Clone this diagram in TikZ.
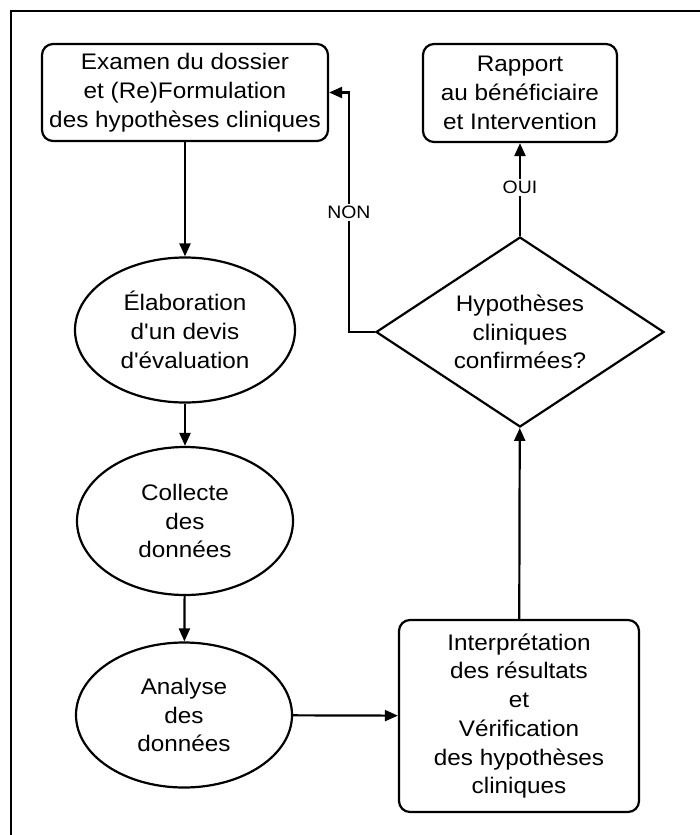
\documentclass[tikz,border=0pt]{standalone}
\usepackage{fontspec}
\setmainfont[FakeStretch=1.08,Ligatures=TeXOff]{Liberation Sans}
\usetikzlibrary{shapes.geometric,arrows.meta}
\begin{document}
\begin{tikzpicture}[x=1pt,y=-1pt,line width=2.2pt,font=\fontsize{22.5}{28.7}\selectfont,
  box/.style={draw,rounded corners=11pt,align=center,inner sep=0pt},
  ell/.style={draw,ellipse,align=center,inner sep=0pt},
  dia/.style={draw,diamond,align=center,inner sep=0pt,aspect=1.516,minimum width=288pt,minimum height=190pt},
  arr/.style={-{Triangle[length=13pt,width=11pt]}},
  lab/.style={fill=white,inner sep=2pt,font=\fontsize{18}{22}\selectfont}]
\useasboundingbox (0,0) rectangle (700,835);
\draw[line width=1.6pt] (11,835)--(11,11)--(700,11);
\node[box,minimum width=286pt,minimum height=97pt](exam) at (185,92.5){Examen du dossier\\et (Re)Formulation\\des hypothèses cliniques};
\node[box,minimum width=194pt,minimum height=98pt](rapp) at (520,93){Rapport\\au bénéficiaire\\et Intervention};
\node[ell,minimum width=220pt,minimum height=145pt](elab) at (185,330){Élaboration\\d'un devis\\d'évaluation};
\node[ell,minimum width=216pt,minimum height=148pt](coll) at (185,521){Collecte\\des\\données};
\node[ell,minimum width=216pt,minimum height=145pt](anal) at (184,715){Analyse\\des\\données};
\node[box,minimum width=240pt,minimum height=192pt](interp) at (519,716){Interprétation\\des résultats\\et\\Vérification\\des hypothèses\\cliniques};
\node[dia](hyp) at (520,332){Hypothèses\\cliniques\\confirmées?};
\draw[arr](exam)--(elab);
\draw[arr](elab)--(coll);
\draw[arr](coll)--(anal);
\draw[arr](anal)--(interp);
\draw[arr](interp)--(hyp);
\draw[arr](hyp)--node[lab,pos=0.52]{OUI}(rapp);
\draw[arr](hyp.west)--++(-26,0)|-node[lab,pos=0.25]{NON}(exam.east);
\end{tikzpicture}
\end{document}
